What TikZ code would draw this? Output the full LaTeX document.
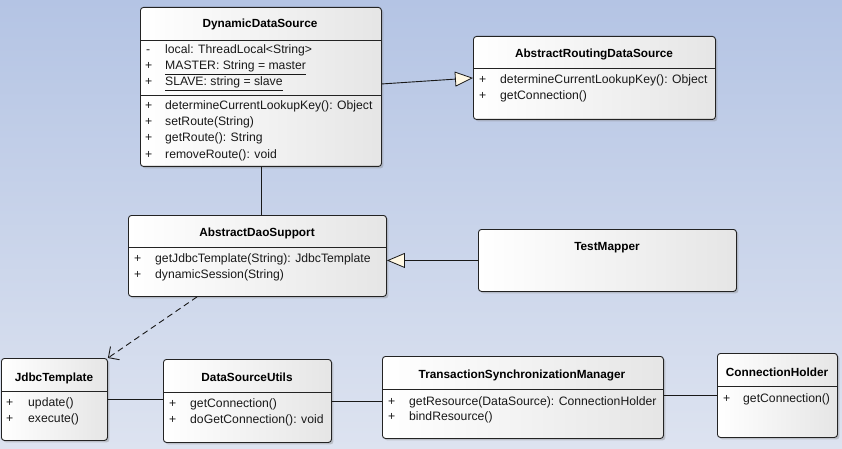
\documentclass[tikz,border=0pt]{standalone}
\usepackage{fontspec}
\setmainfont{Liberation Sans}
\usetikzlibrary{arrows.meta,positioning,shadows}
\definecolor{bgTop}{RGB}{180,196,228}
\definecolor{bgBot}{RGB}{221,227,240}
\definecolor{boxEdge}{RGB}{35,35,35}
\definecolor{triFill}{RGB}{255,248,228}
\tikzset{
    cls/.style={draw=boxEdge, rounded corners=3pt, line width=0.9pt, left color=white, right color=black!10,
                drop shadow={shadow xshift=2pt, shadow yshift=-2pt, opacity=0.35}, anchor=north west, inner sep=0pt},
    ttl/.style={font=\fontsize{11.8}{13}\selectfont\bfseries, anchor=base, inner sep=0pt},
    mbr/.style={font=\fontsize{12.2}{14}\selectfont, anchor=base west, inner sep=0pt, text=black!90},
    sep/.style={draw=boxEdge, line width=0.7pt},
    link/.style={draw=black!90, line width=0.9pt},
    inherit/.style={link, -{Triangle[length=18pt, width=15pt, fill=triFill, line width=0.8pt]}},
    depend/.style={link, dash pattern=on 6pt off 4pt, -{Straight Barb[length=8pt, width=16pt, line width=0.9pt]}}
}
\begin{document}
\begin{tikzpicture}[x=1pt,y=-1pt]
\useasboundingbox (0,0) rectangle (842,449);
\shade[top color=bgTop, bottom color=bgBot] (0,0) rectangle (842,449);

% DynamicDataSource
\node[cls, minimum width=241pt, minimum height=159pt] (dds) at (140,7) {};
\node[ttl] (ddsT) at (260,28) {DynamicDataSource};
\draw[sep] (dds.west |- 0,40) -- (dds.east |- 0,40);
\node[mbr] (ddsV1) at (146,54) {-};
\node[mbr] (ddsA1) at (165,54) {local: ThreadLocal<String>};
\node[mbr] (ddsV2) at (145,70) {+};
\node[mbr] (ddsA2) at (165,70) {\underline{MASTER: String = master}};
\node[mbr] (ddsV3) at (145,86) {+};
\node[mbr] (ddsA3) at (165,86) {\underline{SLAVE: string = slave}};
\draw[sep] (dds.west |- 0,95) -- (dds.east |- 0,95);
\node[mbr] (ddsV4) at (145,110) {+};
\node[mbr] (ddsM1) at (165,110) {determineCurrentLookupKey(): Object};
\node[mbr] (ddsV5) at (145,126) {+};
\node[mbr] (ddsM2) at (165,126) {setRoute(String)};
\node[mbr] (ddsV6) at (145,142) {+};
\node[mbr] (ddsM3) at (165,142) {getRoute(): String};
\node[mbr] (ddsV7) at (145,158) {+};
\node[mbr] (ddsM4) at (165,158) {removeRoute(): void};

% AbstractRoutingDataSource
\node[cls, minimum width=242pt, minimum height=83pt] (ards) at (473,36) {};
\node[ttl] (ardsT) at (594,58) {AbstractRoutingDataSource};
\draw[sep] (ards.west |- 0,68) -- (ards.east |- 0,68);
\node[mbr] (ardsV1) at (479,84) {+};
\node[mbr] (ardsM1) at (500,84) {determineCurrentLookupKey(): Object};
\node[mbr] (ardsV2) at (479,100) {+};
\node[mbr] (ardsM2) at (500,100) {getConnection()};

% AbstractDaoSupport
\node[cls, minimum width=258pt, minimum height=81pt] (ads) at (128,215) {};
\node[ttl] (adsT) at (257,236) {AbstractDaoSupport};
\draw[sep] (ads.west |- 0,247) -- (ads.east |- 0,247);
\node[mbr] (adsV1) at (134,262) {+};
\node[mbr] (adsM1) at (155,262) {getJdbcTemplate(String): JdbcTemplate};
\node[mbr] (adsV2) at (134,278) {+};
\node[mbr] (adsM2) at (155,278) {dynamicSession(String)};

% TestMapper
\node[cls, minimum width=258pt, minimum height=62pt] (tm) at (478,229) {};
\node[ttl] (tmT) at (607,250) {TestMapper};

% JdbcTemplate
\node[cls, minimum width=106pt, minimum height=82pt] (jt) at (1,358) {};
\node[ttl] (jtT) at (54,381) {JdbcTemplate};
\draw[sep] (jt.west |- 0,391) -- (jt.east |- 0,391);
\node[mbr] (jtV1) at (6,406) {+};
\node[mbr] (jtM1) at (28,406) {update()};
\node[mbr] (jtV2) at (6,422) {+};
\node[mbr] (jtM2) at (28,422) {execute()};

% DataSourceUtils
\node[cls, minimum width=168pt, minimum height=83pt] (dsu) at (163,359) {};
\node[ttl] (dsuT) at (247,381) {DataSourceUtils};
\draw[sep] (dsu.west |- 0,392) -- (dsu.east |- 0,392);
\node[mbr] (dsuV1) at (169,407) {+};
\node[mbr] (dsuM1) at (190,407) {getConnection()};
\node[mbr] (dsuV2) at (169,423) {+};
\node[mbr] (dsuM2) at (190,423) {doGetConnection(): void};

% TransactionSynchronizationManager
\node[cls, minimum width=281pt, minimum height=82pt] (tsm) at (382,356) {};
\node[ttl] (tsmT) at (522,378) {TransactionSynchronizationManager};
\draw[sep] (tsm.west |- 0,389) -- (tsm.east |- 0,389);
\node[mbr] (tsmV1) at (388,405) {+};
\node[mbr] (tsmM1) at (409,405) {getResource(DataSource): ConnectionHolder};
\node[mbr] (tsmV2) at (388,420) {+};
\node[mbr] (tsmM2) at (409,420) {bindResource()};

% ConnectionHolder
\node[cls, minimum width=120pt, minimum height=84pt] (ch) at (717,353) {};
\node[ttl] (chT) at (777,376) {ConnectionHolder};
\draw[sep] (ch.west |- 0,386) -- (ch.east |- 0,386);
\node[mbr] (chV1) at (723,402) {+};
\node[mbr] (chM1) at (743,402) {getConnection()};

% connectors
\draw[inherit] ([yshift=3pt]dds.east) -- (ards.west);
\draw[link] (dds.south) -- (dds.south |- ads.north);
\draw[inherit] (tm.west) -- (tm.west -| ads.east);
\coordinate (adsOut) at ([xshift=69pt]ads.south west);
\draw[depend] (adsOut) -- (jt.north east);
\draw[link] (jt.east) -- (jt.east -| dsu.west);
\draw[link] (dsu.east) -- (dsu.east -| tsm.west);
\draw[link] (ch.west -| tsm.east) -- (ch.west);
\end{tikzpicture}
\end{document}
